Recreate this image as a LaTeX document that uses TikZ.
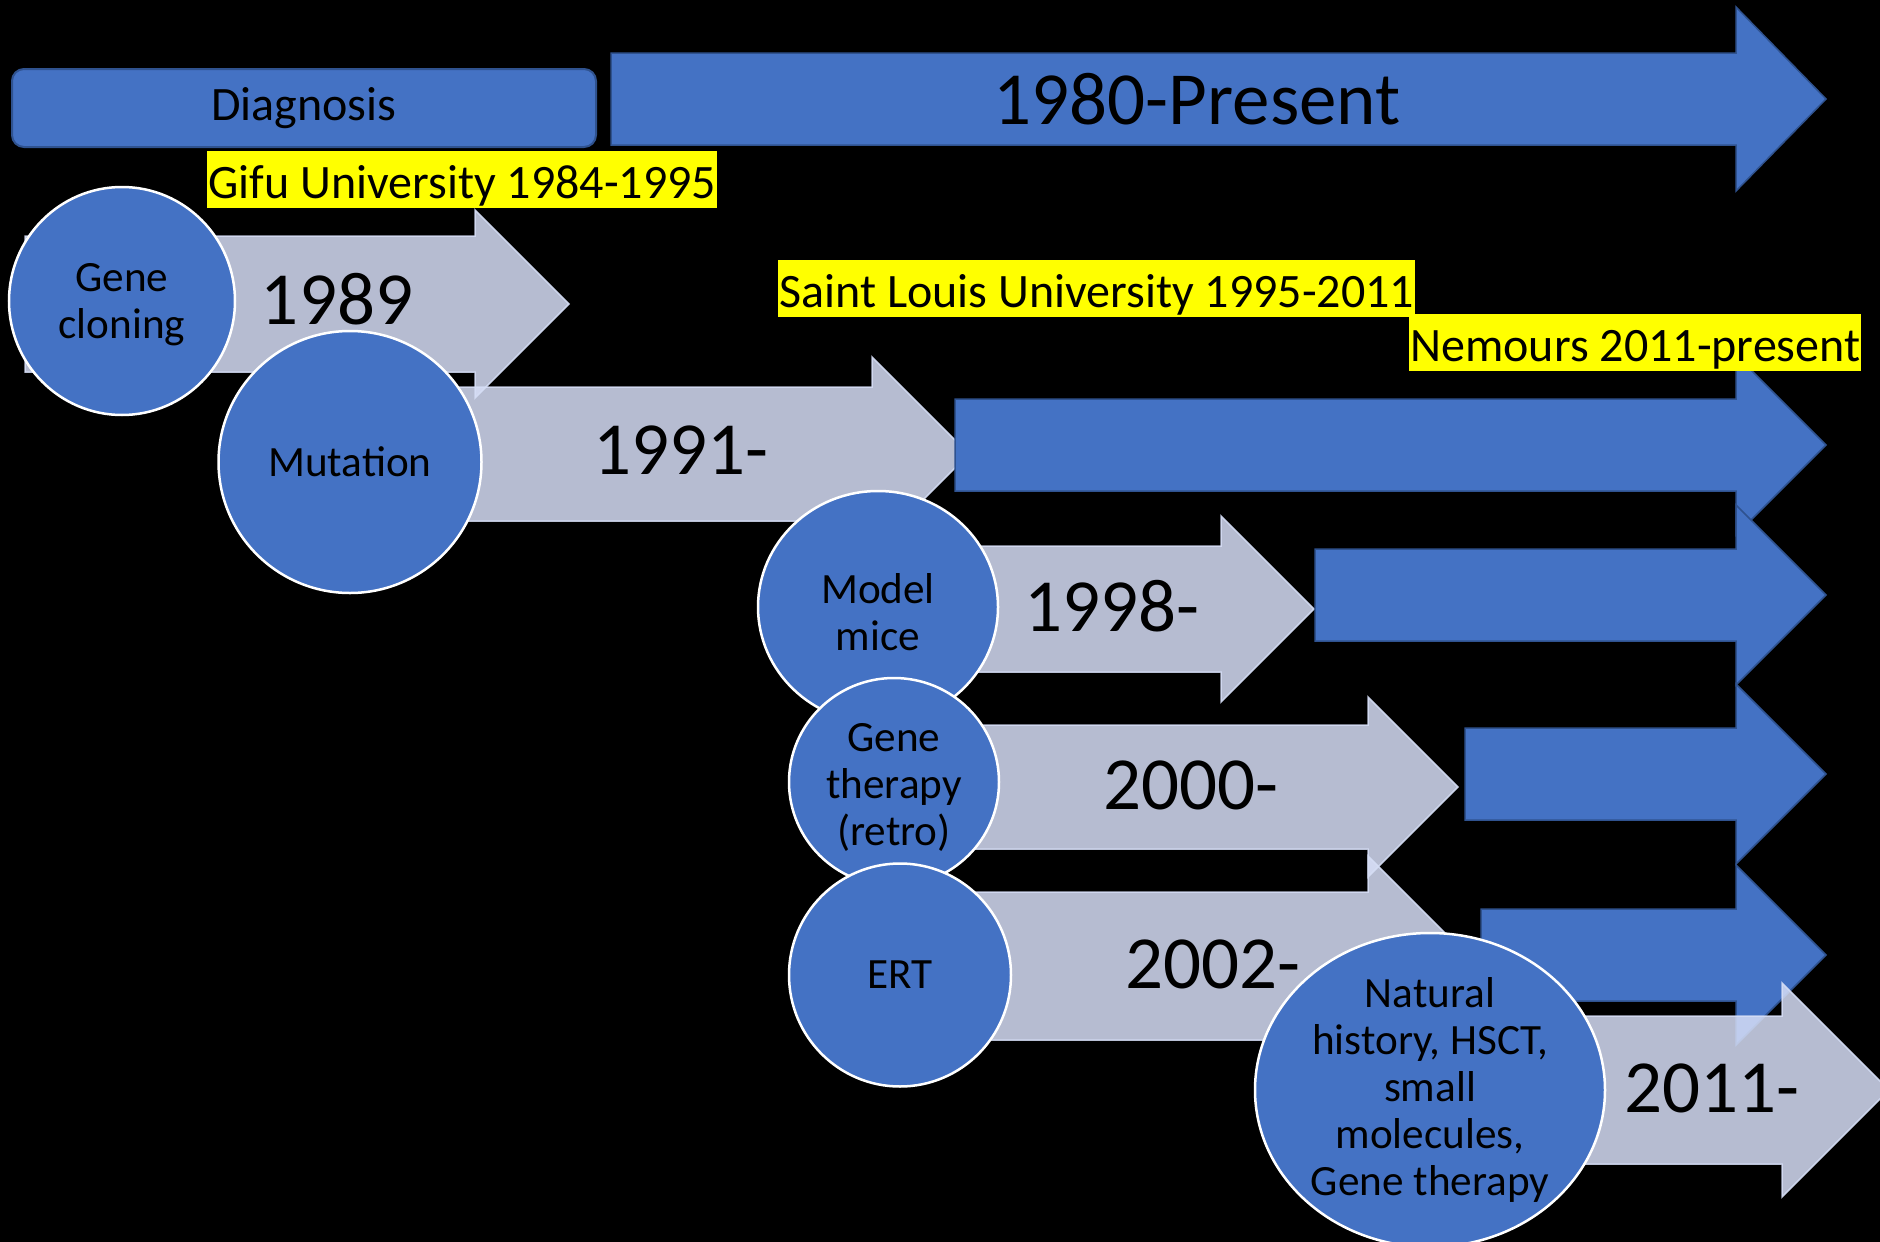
\documentclass[tikz,border=0pt]{standalone}
\usepackage{fontspec}
\setmainfont{Carlito}
\usepackage{xcolor}
\definecolor{AccentBlue}{RGB}{68,114,196}
\definecolor{EdgeBlue}{RGB}{47,82,143}
\definecolor{ArrowGrey}{RGB}{214,222,246}
\definecolor{HiliteYellow}{RGB}{255,255,0}
\usetikzlibrary{shapes.geometric}
\tikzset{
  % Blue disc with white rim
  bubble/.style={
    ellipse, draw=white, line width=1.25pt,
    fill=AccentBlue, inner sep=0pt
  },
  bubbletext/.style={align=center, font=\fontsize{21.6}{23.5}\selectfont, inner sep=0pt},
  % Block arrows
  greyarrow/.style={fill=ArrowGrey, draw=ArrowGrey, line width=0.75pt, opacity=0.85},
  bluearrow/.style={fill=AccentBlue, draw=EdgeBlue, line width=0.75pt},
  % Labels
  yearlabel/.style={anchor=base, font=\fontsize{37.5}{40}\selectfont, inner sep=0pt},
  hilite/.style={
    anchor=north west, fill=HiliteYellow,
    font=\fontsize{24}{28}\selectfont,
    inner xsep=0.5pt, inner ysep=0pt,
    text height=23.5pt, text depth=5pt
  },
  diagbox/.style={
    rectangle, rounded corners=6pt,
    fill=AccentBlue, draw=EdgeBlue, line width=1pt,
    minimum width=292pt, minimum height=39pt,
    font=\fontsize{24}{28}\selectfont
  },
}
% block arrow: style, left x, mid y, body half, head x, head half, tip x
\newcommand{\timelinearrow}[7]{%
  \draw[#1] (#2,#3-#4) -- (#5,#3-#4) -- (#5,#3-#6) -- (#7,#3)
    -- (#5,#3+#6) -- (#5,#3+#4) -- (#2,#3+#4) -- cycle;}

\begin{document}
\begin{tikzpicture}[x=0.5pt, y=-0.5pt]
  \fill[black] (0,0) rectangle (1880,1242);
  \useasboundingbox (0,0) rectangle (1880,1242);

  % top band
  \timelinearrow{bluearrow}{611}{99}{46}{1736}{92}{1826}
  \node[diagbox] (diag) at (304,108) {Diagnosis};
  \node[yearlabel] (span) at (1197,124) {1980-Present};

  % grey steps
  \timelinearrow{greyarrow}{378}{454}{67}{872}{97}{969}
  \timelinearrow{greyarrow}{25}{304}{68}{475}{94}{569}
  \timelinearrow{greyarrow}{878}{609}{63}{1221}{93}{1314}
  \timelinearrow{greyarrow}{894}{787}{62}{1368}{90}{1458}
  \timelinearrow{greyarrow}{900}{966}{74}{1368}{110}{1478}

  % blue continuations
  \timelinearrow{bluearrow}{955}{445}{46}{1736}{90}{1826}
  \timelinearrow{bluearrow}{1315}{595}{46}{1736}{90}{1826}
  \timelinearrow{bluearrow}{1465}{774}{46}{1736}{90}{1826}
  \timelinearrow{bluearrow}{1481}{955}{46}{1736}{90}{1826}
  \timelinearrow{greyarrow}{1430}{1090}{74}{1782}{107}{1889}

  % discs
  \node[bubble, minimum width=113pt, minimum height=114pt] (cloning) at (122,301) {};
  \node[bubbletext, yshift=-2pt] (cloning-txt) at (cloning) {Gene\\cloning};
  \node[bubble, minimum width=131.5pt, minimum height=131pt] (mutation) at (350,462) {};
  \node[bubbletext] (mutation-txt) at (mutation) {Mutation};
  \node[bubble, minimum width=120pt, minimum height=116pt] (mice) at (878,607) {};
  \node[bubbletext, yshift=-2.5pt] (mice-txt) at (mice) {Model\\mice};
  \node[bubble, minimum width=105pt, minimum height=104pt] (retro) at (894,782) {};
  \node[bubbletext, yshift=-2.5pt] (retro-txt) at (retro) {Gene\\therapy\\(retro)};
  \node[bubble, minimum width=111pt, minimum height=111.5pt] (ert) at (900,975) {};
  \node[bubbletext] (ert-txt) at (ert) {ERT};
  \node[bubble, minimum width=175pt, minimum height=157pt] (natural) at (1430,1090) {};
  \node[bubbletext] (natural-txt) at (natural) {Natural\\history, HSCT,\\small\\molecules,\\Gene therapy};

  % years
  \node[yearlabel] (y1989) at (337,324) {1989};
  \node[yearlabel] (y1991) at (681,474) {1991-};
  \node[yearlabel] (y1998) at (1112,631) {1998-};
  \node[yearlabel] (y2000) at (1191,809) {2000-};
  \node[yearlabel] (y2002) at (1213,988) {2002-};
  \node[yearlabel] (y2011) at (1712,1112) {2011-};

  % institutions
  \node[hilite] (gifu) at (207,151) {Gifu University 1984-1995};
  \node[hilite] (stlouis) at (778,260) {Saint Louis University 1995-2011};
  \node[hilite] (nemours) at (1409,314) {Nemours 2011-present};
\end{tikzpicture}
\end{document}
